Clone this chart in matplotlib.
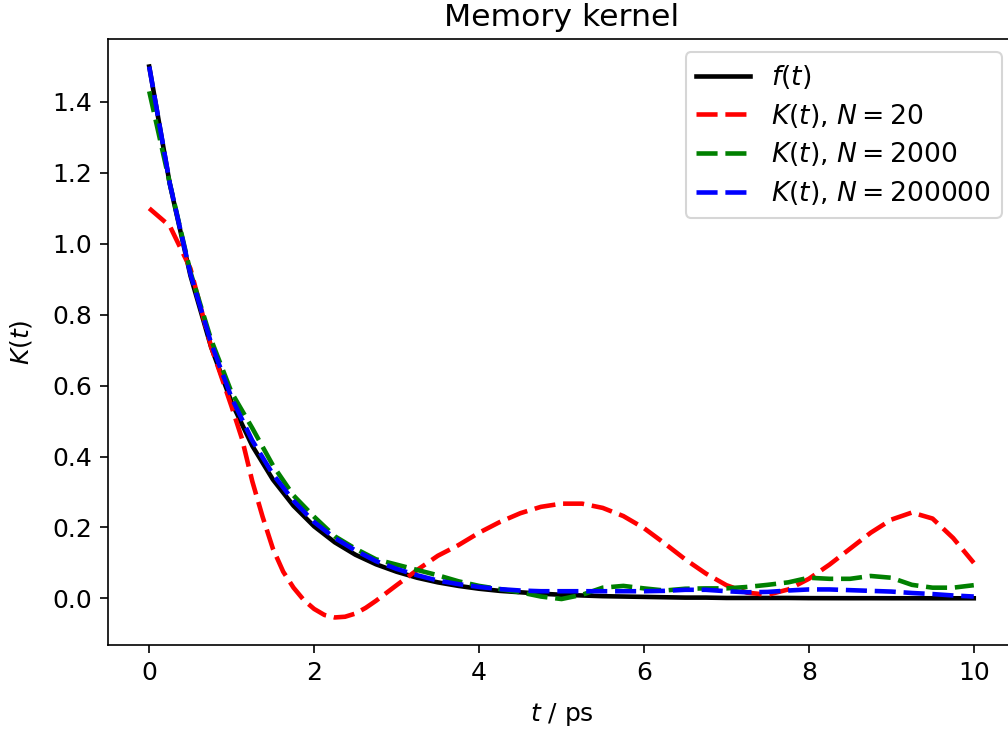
import numpy as np
import matplotlib
matplotlib.use("Agg")
import matplotlib.pyplot as plt

plt.rcParams["font.size"] = 12
plt.rcParams["xtick.major.size"] = 4
plt.rcParams["ytick.major.size"] = 4

t = np.linspace(0, 10, 41)

f_t = [1.500, 1.168, 0.910, 0.709, 0.552, 0.430, 0.335, 0.261, 0.203, 0.158,
       0.123, 0.096, 0.075, 0.058, 0.045, 0.035, 0.027, 0.021, 0.017, 0.013,
       0.010, 0.008, 0.006, 0.005, 0.004, 0.003, 0.002, 0.002, 0.001, 0.001,
       0.001, 0.001, 0.0005, 0.0004, 0.0003, 0.0003, 0.0002, 0.0002, 0.0001, 0.0001, 0.0001]

t_20 = [0.0, 0.25, 0.5, 0.75, 1.0, 1.125, 1.25, 1.375, 1.5, 1.625, 1.75, 1.875,
        2.0, 2.125, 2.25, 2.375, 2.5, 2.625, 2.75, 2.875, 3.0, 3.25, 3.5, 3.75,
        4.0, 4.25, 4.5, 4.75, 5.0, 5.25, 5.5, 5.75, 6.0, 6.25, 6.5, 6.75, 7.0,
        7.25, 7.5, 7.75, 8.0, 8.25, 8.5, 8.75, 9.0, 9.25, 9.5, 9.75, 10.0]
k_20 = [1.10, 1.05, 0.93, 0.71, 0.54, 0.45, 0.33, 0.23, 0.14, 0.075, 0.03, -0.005,
        -0.03, -0.047, -0.054, -0.052, -0.043, -0.027, -0.007, 0.015, 0.037, 0.08, 0.12, 0.15,
        0.185, 0.215, 0.24, 0.258, 0.267, 0.267, 0.255, 0.232, 0.198, 0.155, 0.11, 0.07, 0.037,
        0.016, 0.01, 0.025, 0.055, 0.095, 0.14, 0.185, 0.222, 0.242, 0.225, 0.17, 0.10]

k_2000 = [1.43, 1.17, 0.92, 0.73, 0.58, 0.48, 0.375, 0.29, 0.23, 0.175,
          0.14, 0.11, 0.095, 0.08, 0.065, 0.048, 0.035, 0.026, 0.017, 0.005,
          -0.002, 0.01, 0.03, 0.035, 0.028, 0.022, 0.027, 0.028, 0.028, 0.032,
          0.038, 0.045, 0.058, 0.055, 0.055, 0.063, 0.058, 0.038, 0.03, 0.03, 0.037]

k_200000 = [1.50, 1.17, 0.915, 0.72, 0.565, 0.445, 0.35, 0.275, 0.215, 0.17,
            0.135, 0.105, 0.083, 0.065, 0.05, 0.04, 0.032, 0.026, 0.022, 0.02,
            0.02, 0.02, 0.02, 0.02, 0.02, 0.021, 0.024, 0.024, 0.02, 0.017,
            0.018, 0.022, 0.025, 0.025, 0.023, 0.021, 0.019, 0.015, 0.012, 0.008, 0.005]

labels = ["$f(t)$", "$K(t)$, $N=20$", "$K(t)$, $N=2000$", "$K(t)$, $N=200000$"]

fig = plt.figure(figsize=(1008 / 150, 731 / 150), dpi=150)
ax = fig.add_axes([108 / 1008, 86 / 731, (1015 - 108) / 1008, (645 - 39) / 731])

lw = 2.2
dash = (4.6, 1.7)
ax.plot(t, f_t, color="black", lw=lw, label=labels[0])
ax.plot(t_20, k_20, color="red", lw=lw, ls=(0, dash), label=labels[1])
ax.plot(t, k_2000, color="green", lw=lw, ls=(0, dash), label=labels[2])
ax.plot(t, k_200000, color="blue", lw=lw, ls=(0, dash), label=labels[3])

ax.set_title("Memory kernel", pad=6, fontsize=15.1)
ax.set_xlabel("$t$ / ps", labelpad=8)
ax.set_ylabel("$K(t)$", labelpad=9)
ax.legend(loc="upper right", fontsize=12.8, labelspacing=0.4)

fig.savefig("out.png", dpi=150)
